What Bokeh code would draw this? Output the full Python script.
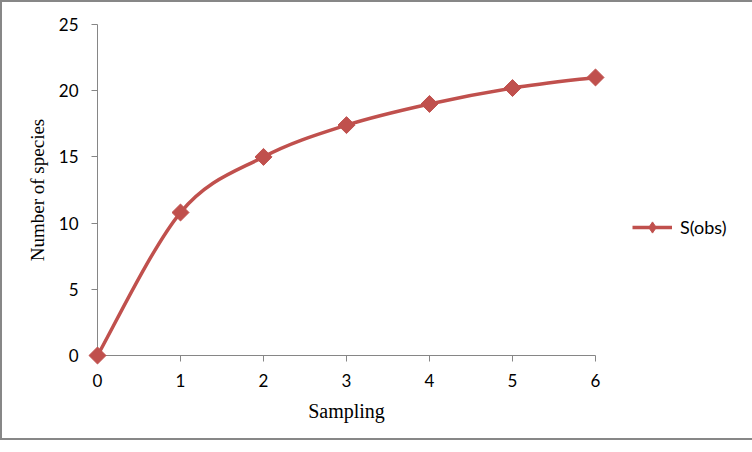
import numpy as np
from bokeh.plotting import figure
from bokeh.models import Range1d, FixedTicker, Legend, LegendItem
from bokeh.embed import file_html
from bokeh.resources import INLINE

# ---- data ----
sampling = [0, 1, 2, 3, 4, 5, 6]
species = [0, 10.8, 15.0, 17.4, 19.0, 20.2, 21.0]
x_ticks = [0, 1, 2, 3, 4, 5, 6]
y_ticks = [0, 5, 10, 15, 20, 25]
series_name = "S(obs)"
x_title = "Sampling"
y_title = "Number of species"

RED = "#C0504D"
GREY = "#868686"

p = figure(frame_width=498, frame_height=331, output_backend="svg", toolbar_location=None,
           x_range=Range1d(0, 6), y_range=Range1d(0, 25),
           min_border_left=95, min_border_right=143, min_border_top=22, min_border_bottom=83)
p.styles = {"border": "2px solid #878787"}
p.outline_line_color = None
p.xgrid.visible = False
p.ygrid.visible = False
p.background_fill_color = "white"
p.border_fill_color = "white"

# smoothed (Excel-like Catmull-Rom) bezier segments
xs = np.array(sampling, dtype=float)
ys = np.array(species, dtype=float)
xp = np.concatenate([[xs[0]], xs, [xs[-1]]])
yp = np.concatenate([[ys[0]], ys, [ys[-1]]])
n = len(xs)
x0 = xs[:-1]; y0 = ys[:-1]; x1 = xs[1:]; y1 = ys[1:]
cx0 = xs[:-1] + (xp[2:n+1] - xp[0:n-1]) / 6.0
cy0 = ys[:-1] + (yp[2:n+1] - yp[0:n-1]) / 6.0
cx1 = xs[1:] - (xp[3:n+2] - xp[1:n]) / 6.0
cy1 = ys[1:] - (yp[3:n+2] - yp[1:n]) / 6.0
curve = p.bezier(x0=x0, y0=y0, x1=x1, y1=y1, cx0=cx0, cy0=cy0, cx1=cx1, cy1=cy1,
                 line_color=RED, line_width=3.5, level="overlay")

# diamond renderer (used for the legend symbol), hidden under the rotated squares
leg_marks = p.scatter(sampling, species, marker="diamond", size=10,
                      fill_color=RED, line_color=RED, level="overlay")
pts = p.scatter(sampling, species, marker="square", angle=np.pi / 4, size=12,
                fill_color=RED, line_color=RED, level="overlay")

# axes
xa = p.xaxis[0]
ya = p.yaxis[0]
for ax in (xa, ya):
    ax.axis_line_color = GREY
    ax.major_tick_line_color = GREY
    ax.major_tick_out = 6
    ax.major_tick_in = 0
    ax.minor_tick_line_color = None
    ax.major_label_text_font = "Lato"
    ax.major_label_text_font_size = "17px"
    ax.major_label_text_color = "black"
    ax.axis_label_text_font = "Liberation Serif"
    ax.axis_label_text_font_style = "normal"
    ax.axis_label_text_color = "black"
xa.ticker = FixedTicker(ticks=x_ticks)
ya.ticker = FixedTicker(ticks=y_ticks)
xa.axis_label = x_title
ya.axis_label = y_title
xa.axis_label_text_font_size = "20px"
ya.axis_label_text_font_size = "19px"
xa.major_label_standoff = 12
ya.major_label_standoff = 13
xa.axis_label_standoff = 10
ya.axis_label_standoff = 8

legend = Legend(items=[LegendItem(label=series_name, renderers=[curve, leg_marks])],
                location=(37, 114), orientation="vertical",
                glyph_width=40, glyph_height=28, label_height=28, label_standoff=8,
                padding=0, margin=0, spacing=0,
                border_line_alpha=0, background_fill_alpha=0,
                label_text_font="Lato", label_text_font_size="18px",
                label_text_color="black")
p.add_layout(legend, "right")

open("out.html", "w").write(file_html(p, INLINE))
